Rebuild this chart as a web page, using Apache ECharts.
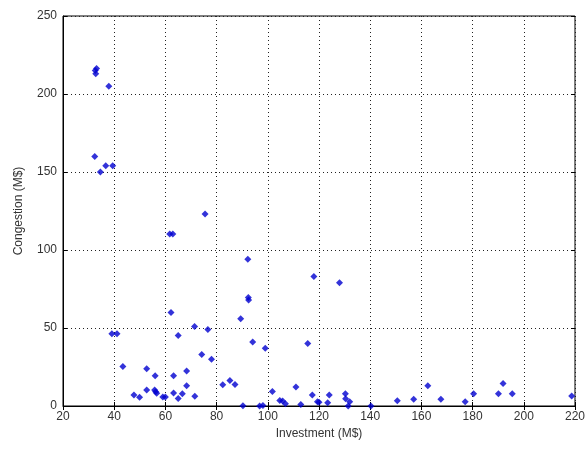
<!DOCTYPE html>
<html>
<head>
  <meta charset="utf-8">
  <script src="https://cdn.jsdelivr.net/npm/echarts@6/dist/echarts.min.js"></script>
  <style>
    body { margin: 0; background: #fff; }
  </style>
</head>
<body>
  <div id="chart" style="width: 588px;height:450px;"></div>
  <script>
    // investment (M$) and congestion (M$) per case
    let investment = [
      33.1, 32.6, 32.8, 37.9, 32.4, 34.6, 36.7, 39.4, 61.7, 62.9,
      75.5, 92.2, 92.4, 92.5, 118, 128, 89.4, 71.4, 76.6, 94.1,
      99, 115.6, 74.2, 78, 62.2, 39.1, 41.1, 65, 43.4, 52.7,
      56, 63.2, 68.3, 68.3, 52.7, 55.8, 56.2, 56.6, 47.7, 49.9,
      59, 60, 63.2, 65, 66.6, 71.5, 82.4, 85.2, 87.2, 90.3,
      96.8, 98.1, 101.8, 104.7, 105.8, 106.9, 111, 112.9, 117.4, 119.4,
      120, 123.4, 124, 130.3, 130.4, 132, 131.4, 140.3, 150.6, 157,
      162.5, 167.6, 177.1, 180.4, 190.1, 191.9, 195.5, 218.7
    ];
    let congestion = [
      216.4, 215.1, 213, 205, 160, 150, 154, 154, 110.3, 110.3,
      123, 94, 69.5, 68, 83, 79, 56, 51, 49, 41,
      37, 40, 33, 30, 60, 46.3, 46.3, 45.2, 25.4, 23.9,
      19.4, 19.4, 22.5, 13, 10.2, 10.2, 9.2, 8.1, 7.1, 5.6,
      5.8, 5.8, 8.3, 4.8, 7.9, 6.2, 13.7, 16.4, 13.8, 0.2,
      0, 0.4, 9.3, 3.5, 3.2, 1.4, 12.2, 1, 7, 2.8,
      2.4, 2.1, 7, 7.8, 4.7, 2.7, 0, 0, 3.4, 4.3,
      13, 4.3, 2.8, 7.9, 7.9, 14.5, 7.9, 6.4
    ];

    let pts = [];
    for (let i in investment)
      pts.push([investment[i], congestion[i]]);

    let font = 'Liberation Sans, Arial, sans-serif';
    let dotted = { color: '#222', width: 1, type: [1, 3] };
    let hidden = {
      type: 'value', axisLine: { show: false }, axisLabel: { show: false },
      splitLine: { show: false }, axisTick: { inside: true, length: 4, lineStyle: { color: '#000' } }
    };

    let myChart = echarts.init(document.getElementById('chart'));
    let option = {
      animation: false,
      grid: {
        left: 63, right: 10, top: 16, bottom: 44,
        show: true, borderColor: '#000', borderWidth: 1
      },
      xAxis: [{
        type: 'value', min: 20, max: 220, interval: 20,
        name: 'Investment (M$)', nameLocation: 'middle', nameGap: 22,
        nameTextStyle: { color: '#333', fontSize: 12, fontFamily: font },
        axisLine: { lineStyle: { color: '#000' } },
        axisTick: { inside: true, length: 4, lineStyle: { color: '#000' } },
        axisLabel: { color: '#333', fontSize: 12, fontFamily: font, margin: 5 },
        splitLine: { show: true, lineStyle: dotted }
      }, Object.assign({ position: 'top', min: 20, max: 220, interval: 20 }, hidden)],
      yAxis: [{
        type: 'value', min: 0, max: 250, interval: 50,
        name: 'Congestion (M$)', nameLocation: 'middle', nameGap: 38,
        nameTextStyle: { color: '#333', fontSize: 12, fontFamily: font },
        axisLine: { lineStyle: { color: '#000' } },
        axisTick: { inside: true, length: 4, lineStyle: { color: '#000' } },
        axisLabel: { color: '#333', fontSize: 12, fontFamily: font, margin: 6 },
        splitLine: { show: true, lineStyle: dotted }
      }, Object.assign({ position: 'right', min: 0, max: 250, interval: 50 }, hidden)],
      series: [{
        type: 'scatter',
        symbol: 'diamond',
        symbolSize: 7,
        itemStyle: { color: '#0000d0' },
        data: pts
      }]
    };
    myChart.setOption(option);
  </script>
</body>
</html>
